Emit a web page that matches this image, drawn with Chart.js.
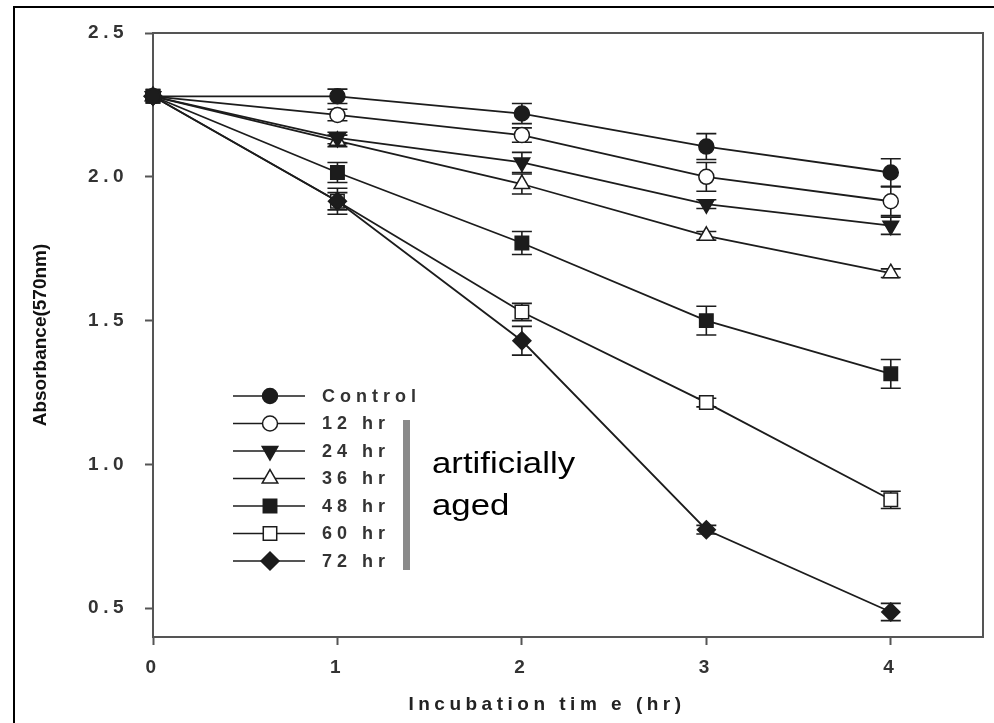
<!DOCTYPE html>
<html>
<head>
<meta charset="utf-8">
<title>Absorbance vs incubation time</title>
<script src="https://cdn.jsdelivr.net/npm/chart.js@4.4.1/dist/chart.umd.min.js"></script>
<style>
  html, body { margin: 0; padding: 0; background: #fff; overflow: hidden; }
  #wrap { position: relative; width: 994px; height: 723px; overflow: hidden; }
  #frame { position: absolute; left: 13px; top: 6px; width: 1000px; height: 1000px; border: 2px solid #000; }
  #c { position: absolute; left: 0; top: 0; }
</style>
</head>
<body>
<div id="wrap"><div id="frame"></div><canvas id="c" width="994" height="723"></canvas></div>
<script>
// Absorbance (570nm) over incubation time: control vs artificially aged seed

const hours = [0, 1, 2, 3, 4];
const seriesLabels = ['Control', '12 hr', '24 hr', '36 hr', '48 hr', '60 hr', '72 hr'];

const control = [2.28, 2.28, 2.22, 2.105, 2.015];
const aged12 = [2.28, 2.215, 2.145, 2.0, 1.915];
const aged24 = [2.28, 2.135, 2.05, 1.905, 1.83];
const aged36 = [2.28, 2.125, 1.975, 1.795, 1.665];
const aged48 = [2.28, 2.015, 1.77, 1.50, 1.315];
const aged60 = [2.28, 1.915, 1.53, 1.215, 0.877];
const aged72 = [2.28, 1.915, 1.43, 0.773, 0.487];

// +/- error for each point
const controlErr = [0, 0.025, 0.035, 0.045, 0.048];
const aged12Err = [0, 0.02, 0.025, 0.05, 0.05];
const aged24Err = [0, 0.02, 0.035, 0.015, 0.03];
const aged36Err = [0, 0.02, 0.035, 0.015, 0.015];
const aged48Err = [0, 0.035, 0.04, 0.05, 0.05];
const aged60Err = [0, 0.03, 0.03, 0.015, 0.03];
const aged72Err = [0, 0.045, 0.05, 0.015, 0.03];

const xTicks = [0, 1, 2, 3, 4];
const yTicks = [0.5, 1.0, 1.5, 2.0, 2.5];

const allValues = [control, aged12, aged24, aged36, aged48, aged60, aged72];
const allErrors = [controlErr, aged12Err, aged24Err, aged36Err, aged48Err, aged60Err, aged72Err];

// marker look for each series
const markers = [
  { style: 'circle', rot: 0, fill: true, r: 7.5 },
  { style: 'circle', rot: 0, fill: false, r: 7.5 },
  { style: 'triangle', rot: 180, fill: true, r: 9 },
  { style: 'triangle', rot: 0, fill: false, r: 9 },
  { style: 'rect', rot: 0, fill: true, r: 9.5 },
  { style: 'rect', rot: 0, fill: false, r: 9.5 },
  { style: 'rectRot', rot: 0, fill: true, r: 9 }
];
const drawOrder = [0, 1, 2, 3, 4, 6, 5];

const INK = '#1c1c1c';
const AXIS = '#555';
const FONT = '"Liberation Sans", Arial, sans-serif';

function drawMarker(ctx, m, x, y) {
  const r = m.r;
  ctx.beginPath();
  if (m.style === 'circle') {
    ctx.arc(x, y, r, 0, Math.PI * 2);
  } else if (m.style === 'triangle') {
    let a = m.rot * Math.PI / 180;
    for (let k = 0; k < 3; k++) {
      const px = x + Math.sin(a) * r, py = y - Math.cos(a) * r;
      if (k === 0) ctx.moveTo(px, py); else ctx.lineTo(px, py);
      a += Math.PI * 2 / 3;
    }
    ctx.closePath();
  } else if (m.style === 'rect') {
    const s = r * Math.SQRT1_2;
    ctx.rect(x - s, y - s, 2 * s, 2 * s);
  } else {
    ctx.moveTo(x - r, y);
    ctx.lineTo(x, y - r);
    ctx.lineTo(x + r, y);
    ctx.lineTo(x, y + r);
    ctx.closePath();
  }
  ctx.fillStyle = m.fill ? INK : '#fff';
  ctx.fill();
  ctx.lineWidth = 1.5;
  ctx.strokeStyle = INK;
  ctx.stroke();
}

const datasets = seriesLabels.map((label, i) => ({
  label: label,
  data: hours.map((h, j) => ({ x: h, y: allValues[i][j] })),
  errors: allErrors[i],
  order: drawOrder[i],
  borderColor: INK,
  borderWidth: 1.8,
  pointStyle: markers[i].style,
  pointRotation: markers[i].rot,
  pointRadius: markers[i].r,
  pointBackgroundColor: markers[i].fill ? INK : '#fff',
  pointBorderColor: INK,
  pointBorderWidth: 1.5,
  tension: 0,
  fill: false,
  clip: false
}));

// error bars under the markers
const errorBars = {
  id: 'errorBars',
  beforeDatasetsDraw(chart) {
    const ctx = chart.ctx;
    const xs = chart.scales.x, ys = chart.scales.y;
    ctx.save();
    ctx.strokeStyle = INK;
    ctx.lineWidth = 1.6;
    chart.data.datasets.forEach(ds => {
      ds.data.forEach((p, j) => {
        const e = ds.errors[j];
        if (!e) return;
        const x = xs.getPixelForValue(p.x);
        const y1 = ys.getPixelForValue(p.y + e);
        const y2 = ys.getPixelForValue(p.y - e);
        ctx.beginPath();
        ctx.moveTo(x, y1); ctx.lineTo(x, y2);
        ctx.moveTo(x - 10, y1); ctx.lineTo(x + 10, y1);
        ctx.moveTo(x - 10, y2); ctx.lineTo(x + 10, y2);
        ctx.stroke();
      });
    });
    ctx.restore();
  }
};

// top and right sides of the plot box, plus letter spacing for axis text
const boxAndText = {
  id: 'boxAndText',
  beforeDraw(chart) {
    chart.ctx.letterSpacing = '4.5px';
    const xs = chart.scales.x, ys = chart.scales.y;
    if (!ys._patched) {
      const orig = ys.drawTitle;
      ys.drawTitle = function () {
        const c = this.ctx;
        c.save(); c.letterSpacing = '0px'; orig.apply(this, arguments); c.restore();
      };
      ys._patched = true;
    }
    if (!xs._patched) {
      const orig = xs.drawTitle;
      xs.drawTitle = function () {
        const c = this.ctx;
        c.save(); c.translate(-21, 0); orig.apply(this, arguments); c.restore();
      };
      xs._patched = true;
    }
  },
  beforeDatasetsDraw(chart) {
    const ctx = chart.ctx, a = chart.chartArea;
    ctx.save();
    ctx.strokeStyle = AXIS;
    ctx.lineWidth = 2;
    ctx.beginPath();
    ctx.moveTo(a.left, a.top);
    ctx.lineTo(a.right, a.top);
    ctx.lineTo(a.right, a.bottom);
    ctx.stroke();
    ctx.restore();
  }
};

// legend inside the plot with the "artificially aged" bracket
const insideLegend = {
  id: 'insideLegend',
  afterDraw(chart) {
    const ctx = chart.ctx;
    ctx.save();
    chart.data.datasets.forEach((ds, i) => {
      const y = 396 + i * 27.5;
      ctx.strokeStyle = INK;
      ctx.lineWidth = 1.6;
      ctx.beginPath();
      ctx.moveTo(233, y); ctx.lineTo(305, y);
      ctx.stroke();
      drawMarker(ctx, markers[i], 270, y);
      ctx.letterSpacing = '5px';
      ctx.fillStyle = '#333';
      ctx.font = 'bold 18px ' + FONT;
      ctx.textAlign = 'left';
      ctx.textBaseline = 'middle';
      ctx.fillText(ds.label, 322, y + 1);
    });
    ctx.fillStyle = '#8a8a8a';
    ctx.fillRect(403, 420, 7, 150);
    ctx.letterSpacing = '0px';
    ctx.fillStyle = '#000';
    ctx.font = '29px ' + FONT;
    ctx.textBaseline = 'alphabetic';
    ctx.translate(432, 0);
    ctx.scale(1.2, 1);
    ctx.fillText('artificially', 0, 473);
    ctx.fillText('aged', 0, 515);
    ctx.restore();
  }
};

new Chart(document.getElementById('c').getContext('2d'), {
  type: 'line',
  data: { datasets: datasets },
  plugins: [errorBars, boxAndText, insideLegend],
  options: {
    responsive: false,
    devicePixelRatio: 1,
    animation: false,
    events: [],
    layout: { padding: { top: 33, right: 6, left: 0, bottom: 0 } },
    plugins: { legend: { display: false }, tooltip: { enabled: false } },
    scales: {
      x: {
        type: 'linear',
        min: 0,
        max: 4.5,
        afterBuildTicks(scale) { scale.ticks = xTicks.map(v => ({ value: v })); },
        afterFit(scale) { scale.height = 86; },
        grid: { drawOnChartArea: false, drawTicks: true, tickLength: 8, tickColor: AXIS, tickWidth: 2 },
        border: { color: AXIS, width: 2 },
        ticks: {
          color: '#333',
          padding: 11,
          font: { family: FONT, size: 19, weight: 'bold' },
          callback: v => String(v)
        },
        title: {
          display: true,
          text: 'Incubation tim e (hr)',
          color: '#222',
          font: { family: FONT, size: 19, weight: 'bold' },
          padding: { top: 0, bottom: 7 }
        }
      },
      y: {
        type: 'linear',
        min: 0.4,
        max: 2.5,
        afterBuildTicks(scale) { scale.ticks = yTicks.map(v => ({ value: v })); },
        afterFit(scale) { scale.width = 153; },
        grid: { drawOnChartArea: false, drawTicks: true, tickLength: 8, tickColor: AXIS, tickWidth: 2 },
        border: { color: AXIS, width: 2 },
        ticks: {
          color: '#333',
          padding: 17,
          font: { family: FONT, size: 19, weight: 'bold' },
          callback: v => v.toFixed(1)
        },
        title: {
          display: true,
          text: 'Absorbance(570nm)',
          color: '#111',
          font: { family: FONT, size: 19, weight: 'bold' },
          padding: { top: 29, bottom: 0 }
        }
      }
    }
  }
});
</script>
</body>
</html>
